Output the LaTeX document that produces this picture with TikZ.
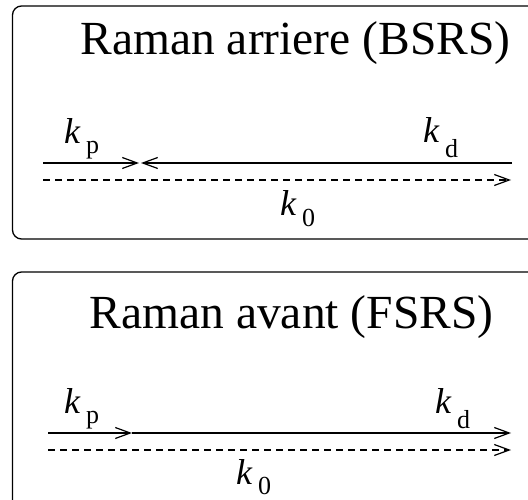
\documentclass[tikz,border=0pt]{standalone}
\usepackage{fontspec}
\setmainfont{Liberation Serif}
\usetikzlibrary{arrows.meta}
\newcommand{\kvec}[2]{{\fontsize{36}{36}\selectfont\itshape k}\hspace{6pt}\raisebox{-#2}{\fontsize{26}{26}\selectfont #1}}
\begin{document}
\begin{tikzpicture}[x=1pt,y=-1pt,
  frame/.style={draw=black,line width=1.3pt,rounded corners=9pt},
  title/.style={anchor=base,inner sep=0pt,font=\fontsize{47.5}{50}\selectfont},
  lab/.style={anchor=base west,inner sep=0pt},
  beam/.style={line width=1.1pt,-{Straight Barb[length=15pt,width=11pt,line width=1.2pt]}},
  dbeam/.style={beam,dash pattern=on 7pt off 5pt}]
\useasboundingbox (0,0) rectangle (528,500);
\clip (0,0) rectangle (528,500);
% top box
\draw[frame] (12.5,6) rectangle (560,239);
\node[title] (t1) at (295.5,55) {Raman arriere (BSRS)};
\coordinate (p1s) at (43,163);
\coordinate (p1e) at (139,163);
\coordinate (d1s) at (512,163);
\coordinate (d1e) at (141,163);
\coordinate (o1s) at (43,180);
\coordinate (o1e) at (511,180);
\draw[beam] (p1s) -- (p1e);
\draw[beam] (d1s) -- (d1e);
\draw[dbeam] (o1s) -- (o1e);
\node[lab] (kp1) at (64,144) {\kvec{p}{10pt}};
\node[lab] (kd1) at (423,143) {\kvec{d}{15pt}};
\node[lab] (k01) at (280,216) {\kvec{0}{10pt}};
% bottom box
\draw[frame] (12.5,272) rectangle (560,540);
\node[title] (t2) at (291.5,328) {Raman avant (FSRS)};
\coordinate (p2s) at (48,433);
\coordinate (p2e) at (132,433);
\coordinate (d2e) at (511,433);
\coordinate (o2s) at (48,450);
\coordinate (o2e) at (511,450);
\draw[beam] (p2s) -- (p2e);
\draw[beam] (p2e) -- (d2e);
\draw[dbeam] (o2s) -- (o2e);
\node[lab] (kp2) at (64,413) {\kvec{p}{10pt}};
\node[lab] (kd2) at (435,413) {\kvec{d}{15pt}};
\node[lab] (k02) at (236,484) {\kvec{0}{10pt}};
\end{tikzpicture}
\end{document}
